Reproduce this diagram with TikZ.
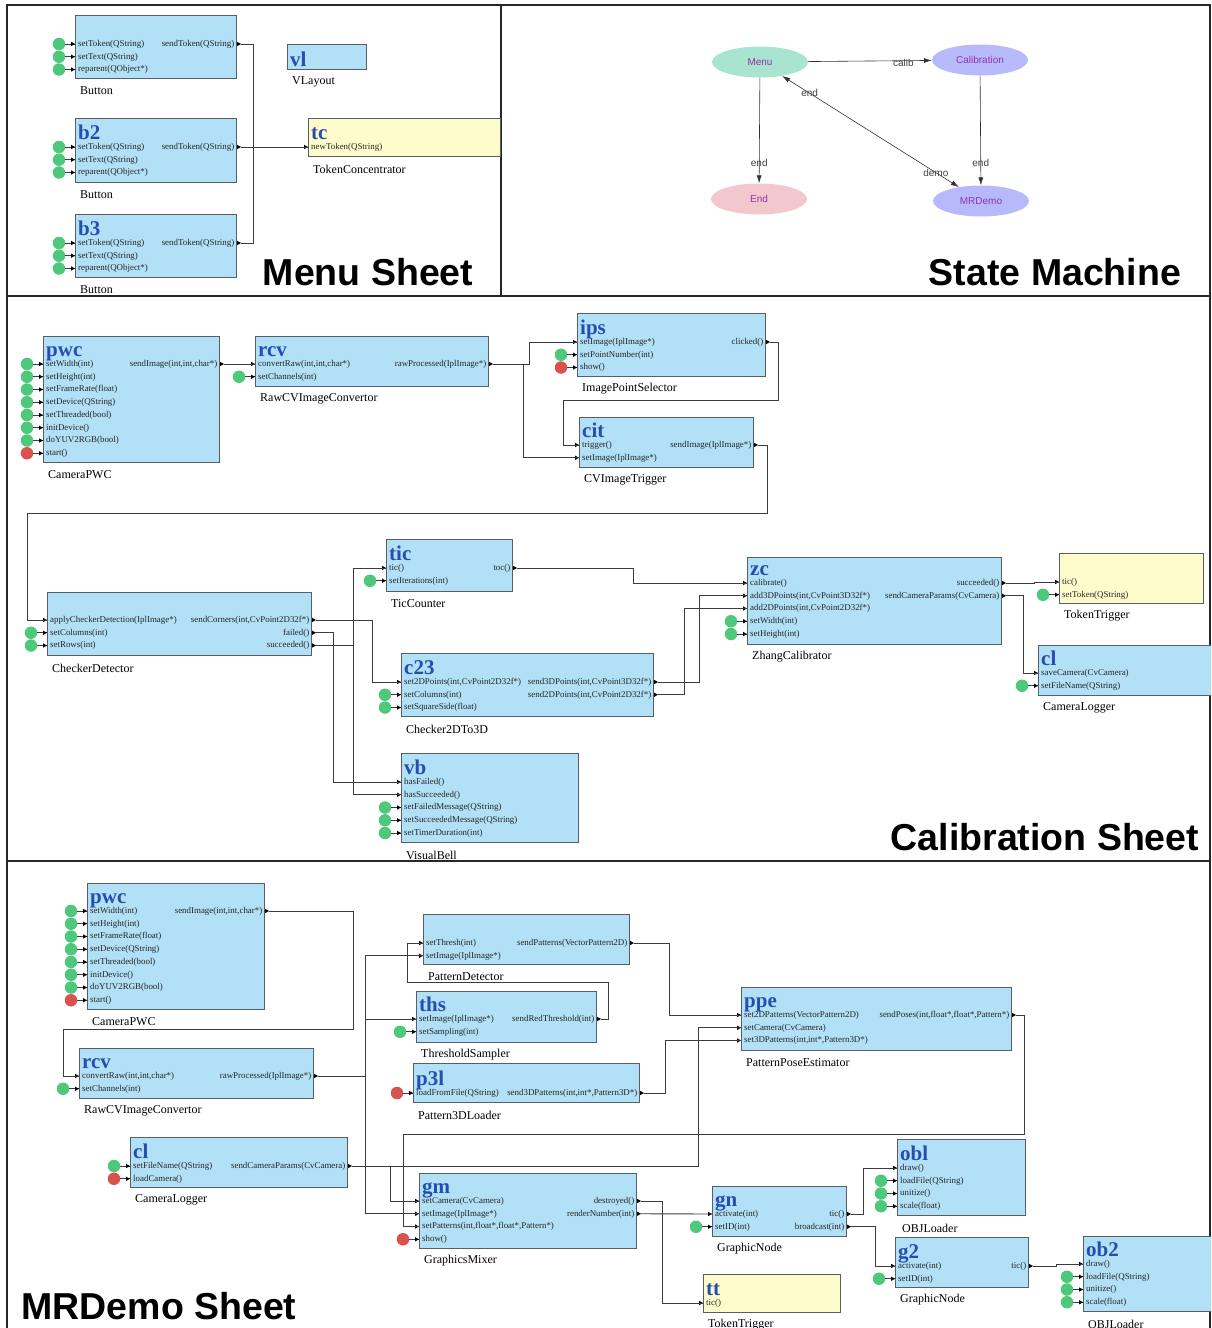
\documentclass[tikz,border=0pt]{standalone}
\usepackage{fontspec}
\setmainfont{Liberation Serif}
\newfontfamily\sheetsans{Liberation Sans}
\usepackage{etoolbox}
\usetikzlibrary{calc}
\usetikzlibrary{arrows.meta}
\usetikzlibrary{shapes.geometric}

\definecolor{unitblue}{RGB}{178,224,246}
\definecolor{tokenyellow}{RGB}{255,252,204}
\definecolor{boxline}{RGB}{85,95,105}
\definecolor{instblue}{RGB}{36,78,176}
\definecolor{settergreen}{RGB}{78,200,122}
\definecolor{starterred}{RGB}{216,82,78}
\definecolor{wiregray}{RGB}{60,60,60}
\definecolor{menugreen}{RGB}{168,228,208}
\definecolor{statelilac}{RGB}{182,186,250}
\definecolor{endpink}{RGB}{242,200,204}
\definecolor{statetext}{RGB}{150,50,170}

\newcommand{\slotfont}{\fontsize{8.9}{10}\selectfont}
\newcommand{\instfont}{\fontsize{21}{22}\selectfont\bfseries}
\newcommand{\classfont}{\fontsize{12}{13}\selectfont}
\newcommand{\statefont}{\sheetsans\fontsize{10}{11}\selectfont}
\newcommand{\titlefont}{\sheetsans\bfseries\fontsize{37.5}{40}\selectfont}

\tikzset{
  compbox/.style={draw=boxline, fill=unitblue, line width=1pt, inner sep=0pt, anchor=north west},
  tokenbox/.style={compbox, fill=tokenyellow},
  instname/.style={font=\instfont, text=instblue, anchor=base west, inner sep=0pt, text depth=0pt},
  slotname/.style={font=\slotfont, text=black!85, inner sep=0pt, text height=6pt, text depth=1.5pt},
  classname/.style={font=\classfont, anchor=west, inner sep=0pt},
  wire/.style={draw=wiregray, line width=0.9pt},
  setter/.style={circle, fill=settergreen, minimum size=12.5pt, inner sep=0pt},
  starter/.style={setter, fill=starterred},
  fsmstate/.style={ellipse, minimum width=96pt, minimum height=31pt, inner sep=0pt, font=\statefont, text=statetext},
  fsmedge/.style={-{Latex[length=8pt,width=5pt]}, draw=black!80, line width=0.6pt},
  fsmlabel/.style={font=\statefont, text=black!75, inner sep=0pt},
  sheettitle/.style={font=\titlefont, inner sep=0pt},
  sheetframe/.style={line width=1.8pt, draw=black!85},
}

% #1 name, #2 box style, #3 x, #4 y, #5 width, #6 height, #7 first slot y, #8 instance, #9 class
\newcommand{\unitbox}[9]{%
  \node[#2, minimum width=#5pt, minimum height=#6pt] (#1) at (#3,#4) {};
  \node[instname] (#1-inst) at (#3+3,#7-7.5) {#8};
  \node[classname] (#1-class) at (#3+5,#4+#6+13) {#9};
  \coordinate (#1-slot) at (#3,#7);
}
% input slots: setter / starter / - (no source)
\newcommand{\inslots}[2]{%
  \foreach \kind/\txt [count=\i] in {#2} {
    \coordinate (#1-in\i) at ($(#1-slot)+(0,{(\i-1)*12.75})$);
    \ifdefstring{\kind}{-}{}{%
      \node[\kind] (#1-src\i) at ($(#1-in\i)+(-16,0)$) {};
      \draw[wire] (#1-src\i) -- (#1-in\i);
    }
    \fill (#1-in\i) -- ++(-4,-2.2) -- ++(0,4.4) -- cycle;
    \node[slotname, anchor=west] at ($(#1-in\i)+(3,0)$) {\txt};
  }}
\newcommand{\outslots}[2]{%
  \foreach \txt [count=\i] in {#2} {
    \coordinate (#1-out\i) at ($(#1.east |- #1-slot)+(4,{(\i-1)*12.75})$);
    \fill (#1-out\i) -- ++(-4,-2.2) -- ++(0,4.4) -- cycle;
    \node[slotname, anchor=east] at ($(#1-out\i)+(-6.5,0)$) {\txt};
  }}

\begin{document}
\begin{tikzpicture}[x=1pt,y=-1pt]
  \useasboundingbox (0,0) rectangle (1211,1328);
  \clip (0,0) rectangle (1211,1328);

  % sheet frames
  \draw[sheetframe] (7,1328) -- (7,5) -- (1210,5) -- (1210,1328);
  \draw[sheetframe] (7,296) -- (1210,296);
  \draw[sheetframe] (7,861) -- (1210,861);
  \draw[sheetframe] (501,5) -- (501,296);

  % ---- menu sheet ----
  \unitbox{b1}{compbox}{75}{15}{161}{63}{44}{}{Button}
  \inslots{b1}{setter/setToken(QString), setter/setText(QString), setter/reparent(QObject*)}
  \outslots{b1}{sendToken(QString)}
  \unitbox{b2}{compbox}{75}{118}{161}{64}{147}{b2}{Button}
  \inslots{b2}{setter/setToken(QString), setter/setText(QString), setter/reparent(QObject*)}
  \outslots{b2}{sendToken(QString)}
  \unitbox{b3}{compbox}{75}{214}{161}{63}{243}{b3}{Button}
  \inslots{b3}{setter/setToken(QString), setter/setText(QString), setter/reparent(QObject*)}
  \outslots{b3}{sendToken(QString)}
  \unitbox{vl}{compbox}{287}{44}{79}{25}{74}{vl}{VLayout}
  \unitbox{tc}{tokenbox}{308}{118}{192}{38}{147}{tc}{TokenConcentrator}
  \inslots{tc}{-/newToken(QString)}

  \draw[wire] (b1-out1) -- ++(12.5,0) |- (tc-in1);
  \draw[wire] (b2-out1) -- (tc-in1);
  \draw[wire] (b3-out1) -- ++(12.5,0) |- (tc-in1);

  \node[sheettitle] (menutitle) at (368,272) {Menu Sheet};

  % ---- state machine ----
  \node[fsmstate, fill=menugreen] (menu) at (760,62) {Menu};
  \node[fsmstate, fill=statelilac] (calibration) at (980,60) {Calibration};
  \node[fsmstate, fill=endpink] (end) at (759,199) {End};
  \node[fsmstate, fill=statelilac] (mrdemo) at (981,201) {MRDemo};
  \draw[fsmedge] (menu) -- node[fsmlabel, pos=.77, yshift=-2.5pt] {calib} (calibration);
  \draw[fsmedge] (menu) -- node[fsmlabel, pos=.81] {end} (end);
  \draw[fsmedge] (calibration) -- node[fsmlabel, pos=.8] {end} (mrdemo);
  \draw[fsmedge, {Latex[length=8pt,width=5pt]}-{Latex[length=8pt,width=5pt]}] (menu) --
    node[fsmlabel, pos=.15, xshift=1pt] {end} node[fsmlabel, pos=.87] {demo} (mrdemo);

  \node[sheettitle] (fsmtitle) at (1055,272) {State Machine};

  % ---- calibration sheet ----
  \unitbox{cpwc}{compbox}{43}{336}{176}{126}{364}{pwc}{CameraPWC}
  \inslots{cpwc}{setter/setWidth(int), setter/setHeight(int), setter/setFrameRate(float),
    setter/setDevice(QString), setter/setThreaded(bool), setter/initDevice(),
    setter/doYUV2RGB(bool), starter/start()}
  \outslots{cpwc}{{sendImage(int,int,char*)}}
  \unitbox{crcv}{compbox}{255}{336}{233}{50}{364}{rcv}{RawCVImageConvertor}
  \inslots{crcv}{-/{convertRaw(int,int,char*)}, setter/setChannels(int)}
  \outslots{crcv}{rawProcessed(IplImage*)}
  \unitbox{ips}{compbox}{577}{313}{188}{63}{342}{ips}{ImagePointSelector}
  \inslots{ips}{-/setImage(IplImage*), setter/setPointNumber(int), starter/show()}
  \outslots{ips}{clicked()}
  \unitbox{cit}{compbox}{579}{417}{174}{50}{445}{cit}{CVImageTrigger}
  \inslots{cit}{-/trigger(), -/setImage(IplImage*)}
  \outslots{cit}{sendImage(IplImage*)}
  \unitbox{cd}{compbox}{47}{592}{264}{63}{620}{}{CheckerDetector}
  \inslots{cd}{-/applyCheckerDetection(IplImage*), setter/setColumns(int), setter/setRows(int)}
  \outslots{cd}{{sendCorners(int,CvPoint2D32f*)}, failed(), succeeded()}
  \unitbox{tic}{compbox}{386}{539}{126}{52}{568}{tic}{TicCounter}
  \inslots{tic}{-/tic(), setter/setIterations(int)}
  \outslots{tic}{toc()}
  \unitbox{c23}{compbox}{401}{653}{252}{63}{682}{c23}{Checker2DTo3D}
  \inslots{c23}{-/{set2DPoints(int,CvPoint2D32f*)}, setter/setColumns(int), setter/setSquareSide(float)}
  \outslots{c23}{{send3DPoints(int,CvPoint3D32f*)}, {send2DPoints(int,CvPoint2D32f*)}}
  \unitbox{vb}{compbox}{401}{753}{177}{89}{782}{vb}{VisualBell}
  \inslots{vb}{-/hasFailed(), -/hasSucceeded(), setter/setFailedMessage(QString),
    setter/setSucceededMessage(QString), setter/setTimerDuration(int)}
  \unitbox{zc}{compbox}{747}{557}{254}{87}{583}{zc}{ZhangCalibrator}
  \inslots{zc}{-/calibrate(), -/{add3DPoints(int,CvPoint3D32f*)}, -/{add2DPoints(int,CvPoint2D32f*)},
    setter/setWidth(int), setter/setHeight(int)}
  \outslots{zc}{succeeded(), sendCameraParams(CvCamera)}
  \unitbox{ctt}{tokenbox}{1059}{553}{144}{50}{582}{}{TokenTrigger}
  \inslots{ctt}{-/tic(), setter/setToken(QString)}
  \unitbox{ccl}{compbox}{1038}{645}{180}{50}{673}{cl}{CameraLogger}
  \inslots{ccl}{-/saveCamera(CvCamera), setter/setFileName(QString)}

  \draw[wire] (cpwc-out1) -- (crcv-in1);
  \draw[wire] (crcv-out1) -- ++(36.5,0) |- (ips-in1);
  \draw[wire] (crcv-out1) -- ++(30.5,0) |- (cit-in2);
  \draw[wire] (ips-out1) -- ++(8.5,0) |- (563,400) |- (cit-in1);
  \draw[wire] (cit-out1) -- ++(9.5,0) |- (27,513) |- (cd-in1);
  \draw[wire] (cd-out1) -- ++(56.5,0) |- (c23-in1);
  \draw[wire] (cd-out2) -- ++(17.5,0) |- (vb-in1);
  \draw[wire] (cd-out3) -- ++(37.5,0) |- (tic-in1);
  \draw[wire] (cd-out3) -- ++(37.5,0) |- (vb-in2);
  \draw[wire] (tic-out1) -- ++(116.5,0) |- (zc-in1);
  \draw[wire] (c23-out1) -- ++(41.5,0) |- (zc-in2);
  \draw[wire] (c23-out2) -- ++(26.5,0) |- (zc-in3);
  \draw[wire] (zc-out1) -- ++(28.5,0) |- (ctt-in1);
  \draw[wire] (zc-out2) -- ++(17.5,0) |- (ccl-in1);

  \node[sheettitle] (caltitle) at (1045,837) {Calibration Sheet};

  % ---- mrdemo sheet ----
  \unitbox{mpwc}{compbox}{87}{883}{177}{126}{911}{pwc}{CameraPWC}
  \inslots{mpwc}{setter/setWidth(int), setter/setHeight(int), setter/setFrameRate(float),
    setter/setDevice(QString), setter/setThreaded(bool), setter/initDevice(),
    setter/doYUV2RGB(bool), starter/start()}
  \outslots{mpwc}{{sendImage(int,int,char*)}}
  \unitbox{mrcv}{compbox}{79}{1048}{234}{50}{1076}{rcv}{RawCVImageConvertor}
  \inslots{mrcv}{-/{convertRaw(int,int,char*)}, setter/setChannels(int)}
  \outslots{mrcv}{rawProcessed(IplImage*)}
  \unitbox{pd}{compbox}{423}{914}{206}{50}{943}{}{PatternDetector}
  \inslots{pd}{-/setThresh(int), -/setImage(IplImage*)}
  \outslots{pd}{sendPatterns(VectorPattern2D)}
  \unitbox{ths}{compbox}{416}{991}{180}{51}{1019}{ths}{ThresholdSampler}
  \inslots{ths}{-/setImage(IplImage*), setter/setSampling(int)}
  \outslots{ths}{sendRedThreshold(int)}
  \unitbox{p3l}{compbox}{413}{1063}{226}{39}{1093}{p3l}{Pattern3DLoader}
  \inslots{p3l}{starter/loadFromFile(QString)}
  \outslots{p3l}{{send3DPatterns(int,int*,Pattern3D*)}}
  \unitbox{ppe}{compbox}{741}{987}{270}{63}{1015}{ppe}{PatternPoseEstimator}
  \inslots{ppe}{-/set2DPatterns(VectorPattern2D), -/setCamera(CvCamera), -/{set3DPatterns(int,int*,Pattern3D*)}}
  \outslots{ppe}{{sendPoses(int,float*,float*,Pattern*)}}
  \unitbox{mcl}{compbox}{130}{1137}{217}{50}{1166}{cl}{CameraLogger}
  \inslots{mcl}{setter/setFileName(QString), starter/loadCamera()}
  \outslots{mcl}{sendCameraParams(CvCamera)}
  \unitbox{gm}{compbox}{419}{1173}{217}{75}{1201}{gm}{GraphicsMixer}
  \inslots{gm}{-/setCamera(CvCamera), -/setImage(IplImage*), -/{setPatterns(int,float*,float*,Pattern*)}, starter/show()}
  \outslots{gm}{destroyed(), renderNumber(int)}
  \unitbox{gn}{compbox}{712}{1186}{134}{50}{1214}{gn}{GraphicNode}
  \inslots{gn}{-/activate(int), setter/setID(int)}
  \outslots{gn}{tic(), broadcast(int)}
  \unitbox{obl}{compbox}{897}{1139}{128}{76}{1168}{obl}{OBJLoader}
  \inslots{obl}{-/draw(), setter/loadFile(QString), setter/unitize(), setter/scale(float)}
  \unitbox{g2}{compbox}{895}{1237}{133}{50}{1266}{g2}{GraphicNode}
  \inslots{g2}{-/activate(int), setter/setID(int)}
  \outslots{g2}{tic()}
  \unitbox{ob2}{compbox}{1083}{1236}{140}{75}{1264}{ob2}{OBJLoader}
  \inslots{ob2}{-/draw(), setter/loadFile(QString), setter/unitize(), setter/scale(float)}
  \unitbox{mtt}{tokenbox}{703}{1274}{137}{38}{1303}{tt}{TokenTrigger}
  \inslots{mtt}{-/tic()}

  \draw[wire] (mpwc-out1) -- ++(84.5,0) |- (63,1029) |- (mrcv-in1);
  \draw[wire] (mrcv-out1) -- ++(47.5,0) |- (pd-in2);
  \draw[wire] (mrcv-out1) -- ++(47.5,0) |- (ths-in1);
  \draw[wire] (mrcv-out1) -- ++(47.5,0) |- (gm-in2);
  \draw[wire] (ths-out1) -- ++(7.5,0) |- (407,982) |- (pd-in1);
  \draw[wire] (pd-out1) -- ++(35.5,0) |- (ppe-in1);
  \draw[wire] (p3l-out1) -- ++(21.5,0) |- (ppe-in3);
  \draw[wire] (mcl-out1) -- ++(346.5,0) |- (ppe-in2);
  \draw[wire] (mcl-out1) -- ++(38.5,0) |- (gm-in1);
  \draw[wire] (ppe-out1) -- ++(8.5,0) |- (403,1134) |- (gm-in3);
  \draw[wire] (gm-out1) -- ++(21.5,0) |- (mtt-in1);
  \draw[wire] (gm-out2) -- (gn-in1);
  \draw[wire] (gn-out1) -- ++(12.5,0) |- (obl-in1);
  \draw[wire] (gn-out2) -- ++(24.5,0) |- (g2-in1);
  \draw[wire] (g2-out1) -- ++(23.5,0) |- (ob2-in1);

  \node[sheettitle] (mrtitle) at (159,1306) {MRDemo Sheet};
\end{tikzpicture}
\end{document}
